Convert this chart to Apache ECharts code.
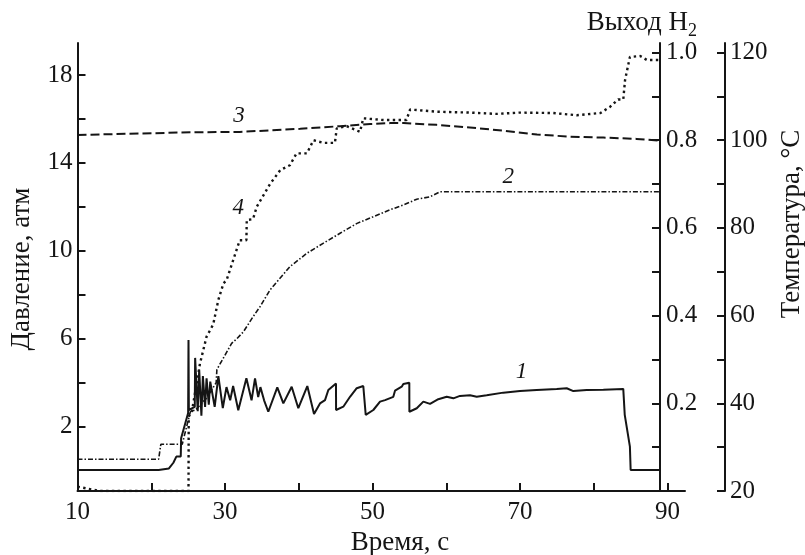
<!DOCTYPE html>
<html>
<head>
<meta charset="utf-8">
<script src="https://cdn.jsdelivr.net/npm/echarts@6/dist/echarts.min.js"></script>
<style>
html,body{margin:0;padding:0;background:#fff;}
#chart{width:805px;height:555px;}
</style>
</head>
<body>
<div id="chart"></div>
<script>
// ---- data: [time, value] ----
// curve 1: pressure, atm (solid)
const curve1 = [[10,0.03],[21,0.03],[22.4,0.1],[23,0.36],[23.4,0.64],[24,0.64],[24.05,1.47],[25,2.62],[25.05,5.94],[25.1,2.76],[25.9,2.9],[25.95,5.13],[26.3,2.7],[26.5,4.6],[26.8,2.5],[27.0,4.3],[27.3,2.9],[27.5,4.2],[27.8,3.0],[28.0,4.05],[28.6,2.9],[29.1,4.3],[29.7,2.85],[30.2,3.8],[30.7,3.2],[31.1,3.85],[31.8,2.75],[32.9,4.2],[33.6,3.2],[34.07,4.2],[34.5,3.35],[34.8,3.8],[35.3,3.2],[35.87,2.68],[37.09,3.79],[37.91,3.06],[39.04,3.82],[39.94,2.84],[41.16,3.85],[42.07,2.58],[42.88,3.06],[43.56,3.21],[44.01,3.67],[45.05,3.97],[45.06,2.76],[46.04,2.91],[46.95,3.36],[47.86,3.75],[48.75,3.85],[49.08,2.54],[50.11,2.76],[51.02,3.14],[51.7,3.21],[52.82,3.36],[53.05,3.64],[53.96,3.82],[54.18,3.94],[54.99,4.0],[55.0,2.68],[56,2.84],[56.89,3.14],[57.8,3.04],[58.92,3.25],[60.06,3.36],[60.96,3.29],[61.86,3.40],[63.22,3.43],[64.13,3.36],[65.48,3.43],[67.73,3.55],[70,3.62],[72.26,3.67],[74.98,3.72],[76.33,3.75],[77.23,3.62],[79.04,3.67],[81.3,3.68],[84,3.72],[84.2,2.54],[84.9,1.09],[85.0,0.03],[89,0.03]];
// curve 2: pressure, atm (dash-dot)
const curve2 = [[10,0.52],[21,0.52],[21.3,1.2],[24.2,1.2],[25.3,2.68],[26.0,2.76],[27.5,3.3],[28.8,4.0],[28.9,4.6],[30.9,5.79],[31.6,6.0],[32.5,6.32],[33.8,7.0],[34.75,7.46],[36.1,8.22],[38.8,9.28],[41.1,9.89],[43.3,10.34],[45.6,10.8],[47.9,11.25],[50.1,11.55],[52.4,11.87],[54.2,12.09],[56,12.35],[57.8,12.46],[59.15,12.69],[89,12.69]];
// curve 3: temperature, °C (dashed)
const curve3 = [[10,101.2],[25.3,101.8],[32,101.9],[40.2,102.6],[45.6,103.2],[49.7,103.7],[52.4,103.9],[54.2,103.9],[58.7,103.5],[63.2,102.9],[67.7,102.2],[72.3,101.3],[76.8,100.8],[81.3,100.6],[85.8,100.3],[89,99.9]];
// curve 4: H2 yield (dotted)
const curve4 = [[10,0.01],[13,0.0],[25.05,0.0],[25.08,0.17],[25.5,0.18],[26.6,0.29],[27.5,0.352],[28.4,0.38],[29.1,0.436],[29.8,0.474],[30.2,0.48],[32.0,0.572],[32.9,0.572],[32.95,0.618],[33.8,0.62],[34.3,0.648],[36.1,0.70],[37.5,0.732],[38.8,0.743],[39.7,0.77],[41.1,0.77],[42.0,0.80],[43.3,0.794],[44.9,0.794],[45.15,0.827],[46.5,0.832],[48.3,0.819],[48.75,0.85],[51.5,0.846],[54.6,0.846],[55.1,0.870],[58.7,0.865],[63.2,0.863],[66.8,0.86],[70,0.863],[74.5,0.862],[77.7,0.857],[80.9,0.862],[82.2,0.876],[83.3,0.893],[84.0,0.893],[84.24,0.937],[84.9,0.99],[86.3,0.992],[87.2,0.983],[89,0.983]];
// curve number labels: [time, value]
const label1 = [70.2, 4.5];
const label2 = [68.4, 13.37];
const label3 = [31.9, 105.5];
const label4 = [31.8, 0.645];

// ---- axes ----
const xTicks = [20,30,40,50,60,70,80,90];
const xLabels = [10,30,50,70,90];
const pTicks = [2,4,6,8,10,12,14,16,18];
const pLabels = [2,6,10,14,18];
const hTicks = [0.1,0.2,0.3,0.4,0.5,0.6,0.7,0.8,0.9,1.0];
const hLabels = [0.2,0.4,0.6,0.8,1.0];
const tTicks = [20,30,40,50,60,70,80,90,100,110,120];
const tLabels = [20,40,60,80,100,120];

const FONT = "'Liberation Serif','Times New Roman',serif";
const INK = '#151515';

function axisCommon(ticks, labels, fmt, margin){
  return {
    splitLine:{show:false},
    axisLine:{show:true, onZero:false, lineStyle:{color:INK, width:2}},
    axisTick:{show:true, inside:true, length:8, customValues:ticks, lineStyle:{color:INK, width:2}},
    axisLabel:{show:true, customValues:labels, margin:margin, color:INK, fontFamily:FONT, fontSize:25,
      formatter: fmt || (v => String(v))}
  };
}

function numLabel(coord, text){
  return {
    symbol:'circle', symbolSize:0,
    label:{show:true, position:'inside', formatter:text, color:INK, fontFamily:FONT, fontStyle:'italic', fontSize:23},
    data:[{coord:coord}]
  };
}

const chart = echarts.init(document.getElementById('chart'), null, {renderer:'canvas'});
chart.setOption({
  animation:false,
  backgroundColor:'#fff',
  grid:{left:77.5, top:43, width:607.5, height:448, containLabel:false},
  xAxis:Object.assign({type:'value', min:10, max:92.37}, axisCommon(xTicks, xLabels, null, 9)),
  yAxis:[
    Object.assign({type:'value', position:'left', min:-0.925, max:19.456}, axisCommon(pTicks, pLabels, null, 5)),
    Object.assign({type:'value', position:'right', offset:-25, min:0, max:1.0217}, axisCommon(hTicks, hLabels, v => v.toFixed(1), 6)),
    Object.assign({type:'value', position:'right', offset:40, min:20, max:122.17}, axisCommon(tTicks, tLabels, null, 5))
  ],
  series:[
    {type:'line', yAxisIndex:0, data:curve1, showSymbol:false, lineStyle:{color:INK, width:2, type:'solid'}, markPoint:numLabel(label1,'1')},
    {type:'line', yAxisIndex:0, data:curve2, showSymbol:false, lineStyle:{color:INK, width:1.6, type:[5,2,1.5,2]}, markPoint:numLabel(label2,'2')},
    {type:'line', yAxisIndex:2, data:curve3, showSymbol:false, lineStyle:{color:INK, width:2, type:[9,4]}, markPoint:numLabel(label3,'3')},
    {type:'line', yAxisIndex:1, data:curve4, showSymbol:false, lineStyle:{color:INK, width:2.4, type:[2.4,3.4]}, markPoint:numLabel(label4,'4')}
  ],
  graphic:[
    {type:'text', x:22, y:269, rotation:Math.PI/2, style:{text:'Давление, атм', font:'27px '+FONT, fill:INK, align:'center', verticalAlign:'middle'}},
    {type:'text', x:792, y:224, rotation:Math.PI/2, style:{text:'Температура, °C', font:'27px '+FONT, fill:INK, align:'center', verticalAlign:'middle'}},
    {type:'text', x:400, y:543, style:{text:'Время, с', font:'27px '+FONT, fill:INK, align:'center', verticalAlign:'middle'}},
    {type:'text', x:688, y:23, style:{text:'Выход H', font:'27px '+FONT, fill:INK, align:'right', verticalAlign:'middle'}},
    {type:'text', x:688, y:31, style:{text:'2', font:'18px '+FONT, fill:INK, align:'left', verticalAlign:'middle'}}
  ]
});
</script>
</body>
</html>
